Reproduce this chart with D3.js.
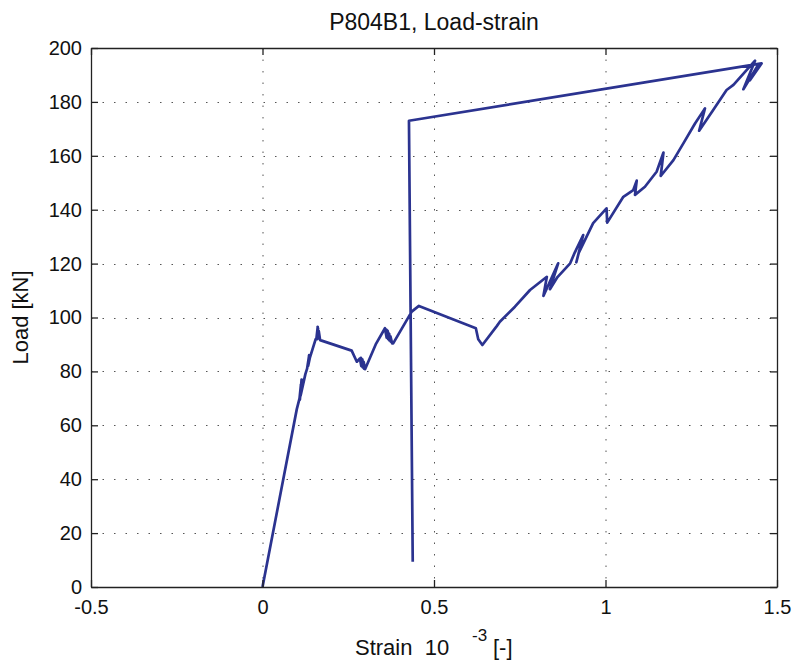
<!DOCTYPE html>
<html>
<head>
<meta charset="utf-8">
<script src="https://cdn.jsdelivr.net/npm/d3@7"></script>
<style>
  body { margin: 0; background: #fff; }
  svg text { font-family: "Liberation Sans", Arial, Helvetica, sans-serif; fill: #111; white-space: pre; }
</style>
</head>
<body>
<div id="chart"></div>
<script>
// Measured curve (strain in 1e-3, load in kN)
const strain = [0, 0.05, 0.1, 0.108, 0.112, 0.109, 0.114, 0.111, 0.125, 0.13, 0.136, 0.133, 0.138, 0.155,
  0.157, 0.161, 0.159, 0.162, 0.16, 0.164, 0.168,
  0.26, 0.275, 0.284, 0.288, 0.287, 0.292, 0.291, 0.296, 0.295, 0.299, 0.33,
  0.357, 0.362, 0.361, 0.366, 0.365, 0.37, 0.369, 0.374, 0.373, 0.378, 0.381,
  0.435, 0.456, 0.622, 0.629, 0.641, 0.683, 0.692, 0.736, 0.78, 0.829, 0.819, 0.862, 0.838, 0.86,
  0.897, 0.91, 0.935, 0.915, 0.922, 0.964, 1.003, 1.005, 1.052, 1.081, 1.091, 1.086, 1.115, 1.149,
  1.169, 1.161, 1.198, 1.227, 1.261, 1.29, 1.273, 1.314, 1.353, 1.373,
  1.436, 1.402, 1.445, 1.421, 1.455, 0.427, 0.438];
const load = [0, 33, 66, 70, 75, 69.5, 77, 71, 79, 81, 86, 82, 85, 92,
  92, 96.5, 92.5, 96, 92, 95, 91.6,
  87.7, 83.6, 84.8, 82, 85, 81.5, 84.5, 81, 83.5, 80.8, 90,
  96, 92.5, 95.5, 92, 95, 91.5, 94, 91, 93, 90.4, 90.4,
  102.2, 104.3, 96, 91.9, 89.8, 96.8, 98.4, 104, 110.2, 115.1, 108, 120.1, 110.5, 115,
  120.1, 124, 130.6, 120.5, 124, 135, 140.5, 135.2, 144.8, 147.3, 150.8, 145.5, 148.5, 154.1,
  161.2, 152.5, 158.4, 164.6, 172, 177.6, 169.3, 177, 184.4, 186.3,
  195.3, 184.7, 193.7, 188, 194.3, 173.0, 9.4];

const xTicks = [-0.5, 0, 0.5, 1, 1.5];
const yTicks = [0, 20, 40, 60, 80, 100, 120, 140, 160, 180, 200];

const W = 794, H = 664;
const pLeft = 91, pRight = 777, pTop = 48, pBottom = 587;

const svg = d3.select('#chart').append('svg')
  .attr('width', W)
  .attr('height', H);

const x = d3.scaleLinear().domain([-0.5, 1.5]).range([pLeft, pRight]);
const y = d3.scaleLinear().domain([0, 200]).range([pBottom, pTop]);

// Grid (dotted)
const grid = svg.append('g')
  .attr('stroke', '#555')
  .attr('stroke-width', 1)
  .attr('stroke-dasharray', '1.5,10');
grid.selectAll('.gx').data(xTicks.slice(1, -1)).enter().append('line')
  .attr('x1', d => x(d) + 0.5).attr('x2', d => x(d) + 0.5)
  .attr('y1', pTop).attr('y2', pBottom);
grid.selectAll('.gy').data(yTicks.slice(1, -1)).enter().append('line')
  .attr('y1', d => Math.round(y(d)) + 0.5).attr('y2', d => Math.round(y(d)) + 0.5)
  .attr('x1', pLeft).attr('x2', pRight);

// Data line
const line = d3.line().x((d, i) => x(strain[i])).y(d => y(d));
svg.append('path')
  .datum(load)
  .attr('fill', 'none')
  .attr('stroke', '#2b3390')
  .attr('stroke-width', 2.7)
  .attr('stroke-linejoin', 'round')
  .attr('d', line);

// Axes, MATLAB box with inward ticks
const tick = 7;
const axB = svg.append('g').attr('transform', `translate(0,${pBottom})`)
  .call(d3.axisBottom(x).tickValues(xTicks).tickSizeInner(-tick).tickSizeOuter(0).tickPadding(13)
    .tickFormat(d => d));
const axT = svg.append('g').attr('transform', `translate(0,${pTop})`)
  .call(d3.axisTop(x).tickValues(xTicks).tickSizeInner(-tick).tickSizeOuter(0).tickFormat(''));
const axL = svg.append('g').attr('transform', `translate(${pLeft},0)`)
  .call(d3.axisLeft(y).tickValues(yTicks).tickSizeInner(-tick).tickSizeOuter(0).tickPadding(9));
const axR = svg.append('g').attr('transform', `translate(${pRight},0)`)
  .call(d3.axisRight(y).tickValues(yTicks).tickSizeInner(-tick).tickSizeOuter(0).tickFormat(''));

[axB, axT, axL, axR].forEach(a => {
  a.select('.domain').attr('stroke', '#222').attr('stroke-width', 1.3);
  a.selectAll('.tick line').attr('stroke', '#222').attr('stroke-width', 1.3);
  a.selectAll('.tick text').attr('font-size', 20).attr('fill', '#111')
    .attr('font-family', '"Liberation Sans", Arial, sans-serif');
});
axB.selectAll('.tick text').attr('dy', '0.72em');

// Title and axis labels
svg.append('text')
  .attr('x', 434).attr('y', 30)
  .attr('text-anchor', 'middle')
  .attr('font-size', 23)
  .text('P804B1, Load-strain');

svg.append('text')
  .attr('transform', `translate(28,${(pTop + pBottom) / 2}) rotate(-90)`)
  .attr('text-anchor', 'middle')
  .attr('font-size', 22)
  .text('Load [kN]');

const xl = svg.append('text')
  .attr('x', 355).attr('y', 655)
  .attr('font-size', 22);
xl.append('tspan').text('Strain  10');
xl.append('tspan').attr('x', 472).attr('y', 641).attr('font-size', 17).text('-3');
xl.append('tspan').attr('x', 493).attr('y', 655).text('[-]');
</script>
</body>
</html>
